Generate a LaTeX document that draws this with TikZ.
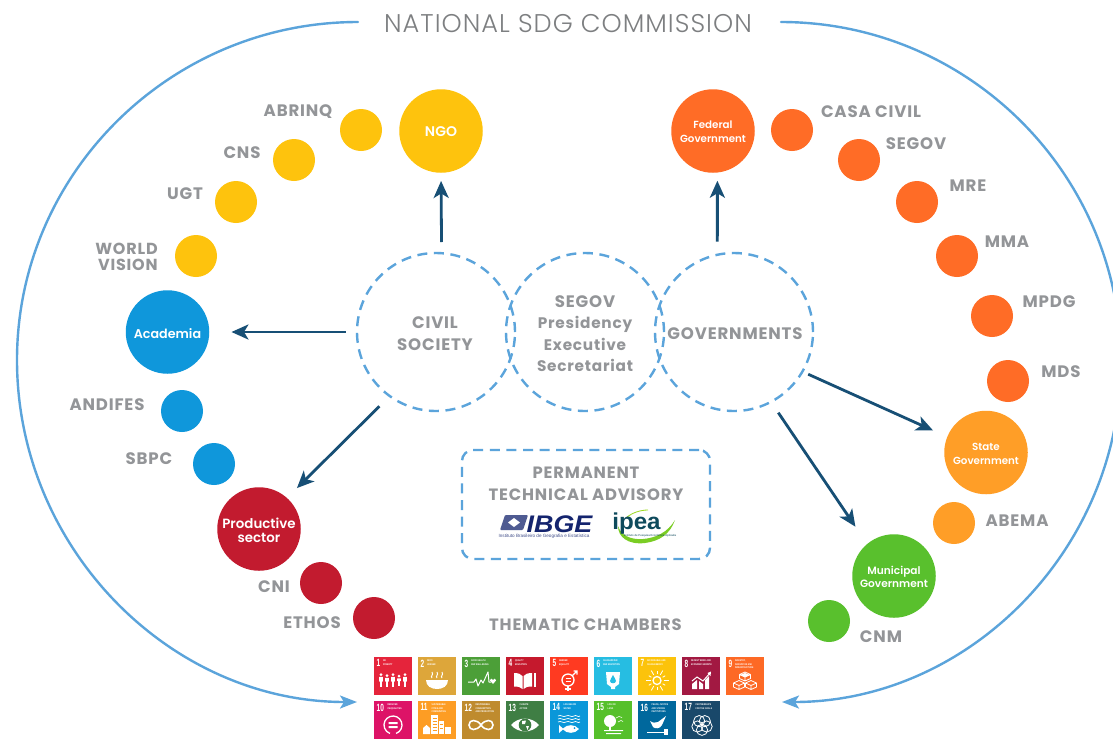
\documentclass[tikz,border=0pt]{standalone}
\usepackage{graphicx}
\usepackage{fontspec}
\usetikzlibrary{arrows.meta}
\setmainfont{Poppins}[BoldFont={Poppins SemiBold}]
\newfontfamily\titlefont{Poppins Light}[LetterSpace=4]
\newfontfamily\labfont{Poppins Bold}[LetterSpace=5]
\newfontfamily\whitefont{Poppins SemiBold}
\newfontfamily\tinyfont{Liberation Sans}
\newfontfamily\numfont{Liberation Sans}[FakeStretch=0.62]
\newfontfamily\tilefont{Liberation Sans}[FakeStretch=0.8]
\definecolor{lineblue}{HTML}{5BA4DB}
\definecolor{darkarrow}{HTML}{174F75}
\definecolor{labgrey}{HTML}{939598}
\definecolor{cyellow}{HTML}{FEC30D}
\definecolor{cblue}{HTML}{0F97DB}
\definecolor{cred}{HTML}{C21B2F}
\definecolor{corange}{HTML}{FF6C26}
\definecolor{camber}{HTML}{FF9E27}
\definecolor{cgreen}{HTML}{59C02D}
\definecolor{ibgeblue}{HTML}{14246E}
\definecolor{ipeateal}{HTML}{0E4A5C}
\newcommand{\capsz}{\fontsize{16.6}{21.5}\selectfont}
\tikzset{
  small/.style={circle,fill=#1,minimum size=42pt,inner sep=0pt},
  big/.style={circle,fill=#1,minimum size=83.5pt,inner sep=0pt},
  wlab/.style={text=white,inner sep=0pt,align=center,yshift=-1pt,font=\whitefont\fontsize{10.3}{14}\selectfont},
  hub/.style={circle,draw=lineblue,line width=2.4pt,dash pattern=on 10pt off 6.6pt,minimum size=158pt,inner sep=0pt},
  lab/.style={text=labgrey,inner sep=0pt,align=center,yshift=-1pt,font=\labfont\fontsize{16.6}{15.5}\selectfont},
  hublab/.style={text=labgrey,inner sep=0pt,align=center,yshift=-0.7pt,font=\labfont\fontsize{15.3}{21.5}\selectfont},
  darr/.style={draw=darkarrow,line width=2.8pt,-{Stealth[length=17pt,width=15pt,inset=4.5pt]}},
  outer/.style={draw=lineblue,line width=2.4pt,line cap=round},
  outerarr/.style={outer,-{Stealth[length=17pt,width=13pt,inset=4pt]}},
  tilebox/.style={fill=#1,minimum width=38pt,minimum height=37.5pt,inner sep=0pt,anchor=north west},
  tnum/.style={text=white,inner sep=0pt,anchor=north west,font=\numfont\bfseries\fontsize{10.5}{10.5}\selectfont},
  ttitle/.style={text=white,inner sep=0pt,anchor=north west,align=left,font=\tilefont\bfseries\fontsize{2.5}{3.2}\selectfont},
  ic/.style={draw=white,line width=1pt},
}
% name, x, y, colour, number, title, icon
\newcommand{\sdgtile}[7]{%
  \definecolor{#1col}{HTML}{#4}%
  \ifnum#5>9 \def\titlex{13.5}\else\def\titlex{8.8}\fi
  \begin{scope}[shift={(#2,#3)}]
    \node[tilebox=#1col] (#1) at (0,0) {};
    \node[tnum] (#1n) at (2.5,2.5) {#5};
    \node[ttitle] (#1t) at (\titlex,3) {#6};
    #7
  \end{scope}}
\newcommand{\person}[3]{% x, head y, height
  \fill[white] (#1,#2) circle (1.5);
  \fill[white,rounded corners=0.4] (#1-1.9,#2+2.3) rectangle (#1+1.9,#2+#3-5);
  \fill[white] (#1-1.3,#2+#3-5.5) rectangle (#1-0.2,#2+#3);
  \fill[white] (#1+0.2,#2+#3-5.5) rectangle (#1+1.3,#2+#3);
}
\begin{document}
\begin{tikzpicture}[x=1pt,y=-1pt]
\clip (0,0) rectangle (1113,740);
\fill[white] (0,0) rectangle (1113,740);

% outer arcs
\coordinate (leftstart) at (358,22);
\coordinate (leftend) at (357,702);
\coordinate (rightstart) at (781,22);
\coordinate (rightend) at (782,702);
\draw[outerarr] (leftstart) .. controls (170,22) and (17,174) .. (17,360)
   .. controls (17,548) and (170,702) .. (leftend);
\draw[outerarr] (rightstart) .. controls (968,22) and (1121,174) .. (1121,362)
   .. controls (1121,550) and (968,702) .. (rightend);
\node[text=labgrey!85!black,inner sep=0pt,font=\titlefont\fontsize{25.6}{27}\selectfont] (title) at (568,24) {NATIONAL SDG COMMISSION};

% hubs
\node[hub] (civil) at (436,332) {};
\node[hub] (segov) at (585,332) {};
\node[hub] (gov) at (734,332) {};
\node[hublab,font=\labfont\capsz] (civillab) at (435,333) {CIVIL\\SOCIETY};
\node[hublab] (segovlab) at (585,333) {{\capsz SEGOV}\\Presidency\\Executive\\Secretariat};
\node[hublab,font=\labfont\capsz] (govlab) at (735,333) {GOVERNMENTS};

% big circles
\node[big=cyellow] (ngo) at (441,131) {};
\node[big=cblue] (academia) at (167.5,332) {};
\node[big=cred] (prod) at (259,529) {};
\node[big=corange] (federal) at (713,131) {};
\node[big=camber] (state) at (986,452.5) {};
\node[big=cgreen] (muni) at (894,576) {};
\node[wlab,font=\whitefont\fontsize{14}{14}\selectfont] (ngot) at (ngo) {NGO};
\node[wlab,yshift=-0.5pt,font=\whitefont\fontsize{12.7}{14}\selectfont] (academiat) at (academia) {Academia};
\node[wlab,font=\whitefont\fontsize{13.4}{14}\selectfont] (prodt) at (prod) {Productive\\sector};
\node[wlab] (federalt) at (federal) {Federal\\Government};
\node[wlab] (statet) at (state) {State\\Government};
\node[wlab,font=\whitefont\fontsize{10.6}{13}\selectfont] (munit) at (muni) {Municipal\\Government};

% small circles
\node[small=cyellow] (abrinq) at (361,130) {};
\node[small=cyellow] (cns) at (294,160) {};
\node[small=cyellow] (ugt) at (236,202) {};
\node[small=cyellow] (wv) at (196,256) {};
\node[small=cblue] (andifes) at (182,411) {};
\node[small=cblue] (sbpc) at (214,464) {};
\node[small=cred] (cni) at (321,583) {};
\node[small=cred] (ethos) at (374,618) {};
\node[small=corange] (casa) at (792,130) {};
\node[small=corange] (segovs) at (859,160) {};
\node[small=corange] (mre) at (917,202) {};
\node[small=corange] (mma) at (957,256) {};
\node[small=corange] (mpdg) at (992,316) {};
\node[small=corange] (mds) at (1008,381) {};
\node[small=camber] (abema) at (954,523) {};
\node[small=cgreen] (cnm) at (829,621) {};

% small labels
\node[lab] (l1) at (298,111) {ABRINQ};
\node[lab] (l2) at (242,152) {CNS};
\node[lab] (l3) at (185,193) {UGT};
\node[lab,align=right,font=\labfont\fontsize{16}{15.5}\selectfont] (l4) at (126.5,256) {WORLD\\VISION};
\node[lab] (l5) at (107,404) {ANDIFES};
\node[lab] (l6) at (149,458) {SBPC};
\node[lab] (l7) at (274,586) {CNI};
\node[lab] (l8) at (312,622) {ETHOS};
\node[lab] (l9) at (871,111) {CASA CIVIL};
\node[lab] (l10) at (916,143) {SEGOV};
\node[lab] (l11) at (968,185) {MRE};
\node[lab] (l12) at (1007,241) {MMA};
\node[lab] (l13) at (1049,301) {MPDG};
\node[lab] (l14) at (1061,371) {MDS};
\node[lab] (l15) at (1017,520) {ABEMA};
\node[lab] (l16) at (881,636) {CNM};
\node[lab,font=\labfont\fontsize{16.4}{17}\selectfont] (l17) at (585.5,624) {THEMATIC CHAMBERS};

% arrows
\draw[darr,shorten <=10pt,shorten >=8pt] (civil.86.4) -- (ngo.south);
\draw[darr,shorten <=12pt,shorten >=8pt] (gov.102.4) -- (federal.-84.5);
\draw[darr,shorten <=10pt,shorten >=22pt] (civil.west) -- (academia.east);
\draw[darr,shorten <=13.4pt,shorten >=13.9pt] (civil.234.9) -- (prod.48.2);
\draw[darr,shorten <=5.2pt,shorten >=15.4pt] (gov.-30.3) -- (state.158);
\draw[darr,shorten <=11.9pt,shorten >=20.7pt] (gov.-62.7) -- (muni.130.7);

% advisory box
\node[draw=lineblue,line width=2.4pt,dash pattern=on 10pt off 6.6pt,rounded corners=11pt,
   minimum width=248pt,minimum height=109pt,inner sep=0pt] (advisory) at (586,504.5) {};
\node[hublab,font=\labfont\fontsize{16.4}{22}\selectfont] (advlab) at (586,483.5) {PERMANENT\\TECHNICAL ADVISORY};

% IBGE logo
\fill[ibgeblue!75!white,rounded corners=1pt] (505,515) -- (528,515) -- (523,530) -- (500,530) -- cycle;
\fill[white] (514,518) -- (520,522.5) -- (514,527) -- (508,522.5) -- cycle;
\node[text=ibgeblue,inner sep=0pt,font=\tinyfont\bfseries\itshape\fontsize{24}{24}\selectfont] (ibge) at (559.5,524) {\scalebox{1.12}[1]{IBGE}};
\node[text=ibgeblue!80!white,inner sep=0pt,font=\tinyfont\fontsize{4.6}{5}\selectfont] (ibgesub) at (544,536.5) {Instituto Brasileiro de Geografia e Estatística};

% ipea logo
\fill[cgreen!80!yellow] (618,526) .. controls (618,537) and (628,545) .. (645,543)
   .. controls (660,541) and (670,534) .. (675,520)
   .. controls (668,532) and (656,538) .. (643,539)
   .. controls (630,540) and (621,535) .. (618,526) -- cycle;
\draw[cgreen!60!yellow,line width=0.8pt] (627,517) .. controls (632,513) and (640,510) .. (648,510);
\node[text=ipeateal,inner sep=0pt,font=\tinyfont\bfseries\fontsize{23}{23}\selectfont] (ipea) at (636.5,524) {\scalebox{1.05}[1]{ipea}};
\node[text=ipeateal,inner sep=0pt,font=\tinyfont\fontsize{2.8}{3}\selectfont] (ipeasub) at (650,535.5) {Instituto de Pesquisa Econômica Aplicada};

% SDG tiles
\sdgtile{t1}{374}{657}{E5243B}{1}{NO\\POVERTY}{%
  \person{7}{17.5}{12}\person{13}{18.5}{11}\person{19}{17.5}{12}\person{25}{19}{10}\person{31}{17.5}{12}}
\sdgtile{t2}{418}{657}{DDA63A}{2}{ZERO\\HUNGER}{%
  \fill[white] (8,23) -- (30,23) .. controls (30,29) and (25,32) .. (19,32) .. controls (13,32) and (8,29) .. (8,23) -- cycle;
  \foreach \sx in {14,19,24}{\draw[ic] (\sx,21) .. controls (\sx-2,19) and (\sx+2,18) .. (\sx,15);}}
\sdgtile{t3}{462}{657}{4C9F38}{3}{GOOD HEALTH\\AND WELL-BEING}{%
  \draw[ic,line join=round] (6,25) -- (12,25) -- (14,22) -- (16,29) -- (19,23) -- (21,26) -- (26,15) -- (27,25) -- (29,25);
  \fill[white] (31,27) -- (28,23.5) .. controls (27.5,21) and (30.5,21) .. (31,23) .. controls (31.5,21) and (34.5,21) .. (34,23.5) -- cycle;}
\sdgtile{t4}{506}{657}{C5192D}{4}{QUALITY\\EDUCATION}{%
  \fill[white] (8,16) .. controls (12,16) and (15,17) .. (16.5,19) -- (16.5,32) .. controls (15,30) and (12,29.5) .. (8,29.5) -- cycle;
  \fill[white] (26,16) .. controls (22,16) and (19,17) .. (17.5,19) -- (17.5,32) .. controls (19,30) and (22,29.5) .. (26,29.5) -- cycle;
  \fill[white] (28,16) rectangle (30,30);}
\sdgtile{t5}{550}{657}{FF3A21}{5}{GENDER\\EQUALITY}{%
  \draw[ic,line width=1.3pt] (18,23) circle (6);
  \draw[ic,line width=1.3pt] (18,29) -- (18,34) (15,32) -- (21,32);
  \draw[ic,line width=1.3pt] (22,19) -- (27,14) (23.5,14) -- (27,14) -- (27,17.5);
  \draw[ic] (15.5,21.5) -- (20.5,21.5) (15.5,24.5) -- (20.5,24.5);}
\sdgtile{t6}{594}{657}{26BDE2}{6}{CLEAN WATER\\AND SANITATION}{%
  \fill[white] (12,15) -- (26,15) -- (25,27) -- (21,30) -- (21,32) -- (17,32) -- (17,30) -- (13,27) -- cycle;
  \fill[t6col] (19,18) .. controls (20,21) and (22,22) .. (22,24) .. controls (22,27) and (16,27) .. (16,24) .. controls (16,22) and (18,21) .. (19,18) -- cycle;}
\sdgtile{t7}{638}{657}{FCC30B}{7}{AFFORDABLE AND\\CLEAN ENERGY}{%
  \draw[ic,line width=1.3pt] (19,23.5) circle (4);
  \foreach \an/\rl in {0/5,30/3,60/5,90/3,120/5,150/3,180/5,210/3,240/5,270/3,300/5,330/3}{\draw[ic,line width=.8pt] (19,23.5) ++(\an:6.5) -- ++(\an:\rl);}}
\sdgtile{t8}{682}{657}{A21942}{8}{DECENT WORK AND\\ECONOMIC GROWTH}{%
  \fill[white] (10,32) -- (10,27) -- (15,23) -- (15,32) -- cycle;
  \fill[white] (17,32) -- (17,24) -- (21,27) -- (21,32) -- cycle;
  \fill[white] (23,32) -- (23,23) -- (27,19) -- (27,32) -- cycle;
  \draw[ic] (10,24) -- (15,20) -- (21,24) -- (28,16);
  \fill[white] (29,14.5) -- (28.5,19) -- (25.5,16) -- cycle;}
\sdgtile{t9}{726}{657}{FD6925}{9}{INDUSTRY,\\INNOVATION AND\\INFRASTRUCTURE}{%
  \foreach \cx/\cy in {19/15,13/23.5,25/23.5}{
    \draw[ic,line width=.8pt,line join=round] (\cx,\cy) -- (\cx+5.5,\cy+2.5) -- (\cx+5.5,\cy+6.5) -- (\cx,\cy+9) -- (\cx-5.5,\cy+6.5) -- (\cx-5.5,\cy+2.5) -- cycle
      (\cx-5.5,\cy+2.5) -- (\cx,\cy+5) -- (\cx+5.5,\cy+2.5) (\cx,\cy+5) -- (\cx,\cy+9);}
  \fill[white] (19,16) -- (24,18) -- (19,20) -- (14,18) -- cycle;}
\sdgtile{t10}{374}{701}{DD1367}{10}{REDUCED\\INEQUALITIES}{%
  \draw[ic,line width=1.3pt] (19,24) ++(70:9) arc (70:-250:9);
  \fill[white] (14.5,21) rectangle (23.5,23) (14.5,25) rectangle (23.5,27);}
\sdgtile{t11}{418}{701}{FD9D24}{11}{SUSTAINABLE\\CITIES AND\\COMMUNITIES}{%
  \fill[white] (5,33) -- (5,27) -- (8.5,24) -- (12,27) -- (12,33) -- cycle;
  \fill[white] (13,33) rectangle (20,14);
  \fill[white] (21,33) rectangle (26,20);
  \fill[white] (27,33) rectangle (33,26);
  \foreach \wy in {17,20,23,26,29}{\draw[t11col,line width=.7pt] (14.5,\wy) -- (18.5,\wy);}
  \foreach \wy in {23,27}{\draw[t11col,line width=.7pt] (22,\wy) -- (25,\wy);}}
\sdgtile{t12}{462}{701}{BF8B2E}{12}{RESPONSIBLE\\CONSUMPTION\\AND PRODUCTION}{%
  \draw[ic,line width=1.6pt] (19,24) .. controls (15,18) and (7,18) .. (7,24) .. controls (7,30) and (15,30) .. (19,24)
     .. controls (23,18) and (31,18) .. (31,24) .. controls (31,30) and (23,30) .. (19,24);}
\sdgtile{t13}{506}{701}{3F7E44}{13}{CLIMATE\\ACTION}{%
  \fill[white] (5,24) .. controls (12,15.5) and (26,15.5) .. (33,24) .. controls (26,32.5) and (12,32.5) .. (5,24) -- cycle;
  \fill[t13col] (19,24) circle (6.3);
  \fill[white] (16,20) -- (20,19.5) -- (19,23) -- (16,23) -- cycle (20,25) -- (23,25) -- (21.5,29) -- cycle;}
\sdgtile{t14}{550}{701}{0A97D9}{14}{LIFE BELOW\\WATER}{%
  \foreach \wy in {15,18,21}{\draw[ic,line width=.7pt] (8,\wy) .. controls (11,\wy-2) and (13,\wy+2) .. (16,\wy) .. controls (19,\wy-2) and (21,\wy+2) .. (24,\wy) .. controls (26,\wy-2) and (28,\wy+2) .. (30,\wy);}
  \fill[white] (9,24) -- (13,27.5) .. controls (17,23) and (25,23) .. (29,28) .. controls (25,33) and (17,33) .. (13,28.5) -- (9,32) -- cycle;
  \fill[t14col] (24.5,27) circle (1);}
\sdgtile{t15}{594}{701}{56C02B}{15}{LIFE ON\\LAND}{%
  \fill[white] (16,20) circle (6);
  \fill[white] (15,24) rectangle (17,29);
  \fill[white] (10,29) rectangle (29,30.2) (12,32) rectangle (27,33);
  \draw[ic,line width=.6pt] (22,17) -- (25,15.5) -- (28,16.5) (24,21) -- (27,19.5) -- (29,20.5);}
\sdgtile{t16}{638}{701}{00689D}{16}{PEACE, JUSTICE\\AND STRONG\\INSTITUTIONS}{%
  \fill[white] (12,20) .. controls (15,22) and (17,22) .. (20,21) -- (24,18) -- (28,15) -- (24,24) .. controls (22,28) and (17,28) .. (15,26) -- cycle;
  \fill[white] (9,30.5) rectangle (26,31.7);
  \fill[white] (26,27.5) rectangle (30,34);}
\sdgtile{t17}{682}{701}{19486A}{17}{PARTNERSHIPS\\FOR THE GOALS}{%
  \foreach \an in {90,162,234,306,18}{\draw[ic,line width=.8pt] (20,24) ++(\an:4.8) circle (5.6);}}

\end{tikzpicture}
\end{document}
